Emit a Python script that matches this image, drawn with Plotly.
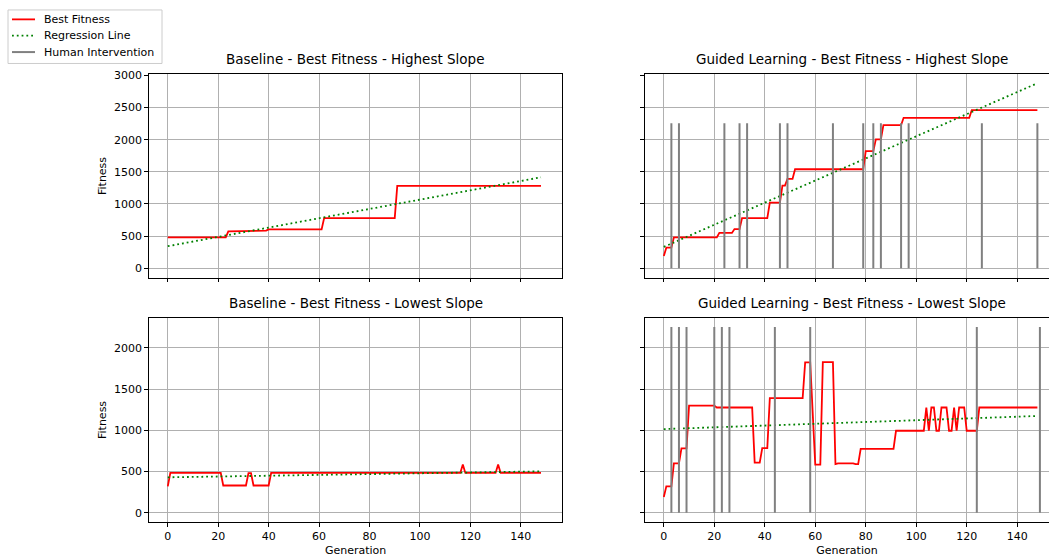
import numpy as np
import plotly.graph_objects as go

generations = list(range(149))

baseline_high = [
    480, 480, 480, 480, 480, 480, 480, 480, 480, 480,
    480, 480, 480, 480, 480, 480, 480, 480, 480, 480,
    480, 480, 480, 480, 575, 575, 575, 575, 575, 575,
    575, 585, 585, 585, 585, 585, 585, 585, 585, 585,
    605, 605, 605, 605, 605, 605, 605, 605, 605, 605,
    605, 605, 605, 605, 605, 605, 605, 605, 605, 605,
    605, 605, 780, 780, 780, 780, 780, 780, 780, 780,
    780, 780, 780, 780, 780, 780, 780, 780, 780, 780,
    780, 780, 780, 780, 780, 780, 780, 780, 780, 780,
    780, 1280, 1280, 1280, 1280, 1280, 1280, 1280, 1280, 1280,
    1280, 1280, 1280, 1280, 1280, 1280, 1280, 1280, 1280, 1280,
    1280, 1280, 1280, 1280, 1280, 1280, 1280, 1280, 1280, 1280,
    1280, 1280, 1280, 1280, 1280, 1280, 1280, 1280, 1280, 1280,
    1280, 1280, 1280, 1280, 1280, 1280, 1280, 1280, 1280, 1280,
    1280, 1280, 1280, 1280, 1280, 1280, 1280, 1280, 1280,
]

guided_high = [
    190, 320, 320, 320, 480, 480, 480, 480, 480, 480,
    480, 480, 480, 480, 480, 480, 480, 480, 480, 480,
    480, 480, 550, 550, 550, 550, 550, 550, 610, 610,
    610, 780, 780, 780, 780, 780, 780, 780, 780, 780,
    780, 780, 1020, 1020, 1020, 1020, 1020, 1285, 1285, 1390,
    1390, 1390, 1540, 1540, 1540, 1540, 1540, 1540, 1540, 1540,
    1540, 1540, 1540, 1540, 1540, 1540, 1540, 1540, 1540, 1540,
    1540, 1540, 1540, 1540, 1540, 1540, 1540, 1540, 1540, 1540,
    1820, 1820, 1820, 1820, 2005, 2005, 2005, 2225, 2225, 2225,
    2225, 2225, 2225, 2225, 2225, 2340, 2340, 2340, 2340, 2340,
    2340, 2340, 2340, 2340, 2340, 2340, 2340, 2340, 2340, 2340,
    2340, 2340, 2340, 2340, 2340, 2340, 2340, 2340, 2340, 2340,
    2340, 2340, 2460, 2460, 2460, 2460, 2460, 2460, 2460, 2460,
    2460, 2460, 2460, 2460, 2460, 2460, 2460, 2460, 2460, 2460,
    2460, 2460, 2460, 2460, 2460, 2460, 2460, 2460, 2460,
]

baseline_low = [
    320, 483, 483, 483, 483, 483, 483, 483, 483, 483,
    483, 483, 483, 483, 483, 483, 483, 483, 483, 483,
    483, 483, 330, 330, 330, 330, 330, 330, 330, 330,
    330, 330, 480, 480, 330, 330, 330, 330, 330, 330,
    330, 483, 483, 483, 483, 483, 483, 483, 483, 483,
    483, 483, 483, 483, 483, 483, 483, 483, 483, 483,
    483, 483, 483, 483, 483, 483, 483, 483, 483, 483,
    483, 483, 483, 483, 483, 483, 483, 483, 483, 483,
    483, 483, 483, 483, 483, 483, 483, 483, 483, 483,
    483, 483, 483, 483, 483, 483, 483, 483, 483, 483,
    483, 483, 483, 483, 483, 483, 483, 483, 483, 483,
    483, 483, 483, 483, 483, 483, 483, 584, 483, 483,
    483, 483, 483, 483, 483, 483, 483, 483, 483, 483,
    483, 584, 483, 483, 483, 483, 483, 483, 483, 483,
    483, 483, 483, 483, 483, 483, 483, 483, 483,
]

guided_low = [
    190, 320, 320, 320, 600, 600, 600, 780, 780, 780,
    1300, 1300, 1300, 1300, 1300, 1300, 1300, 1300, 1300, 1300,
    1300, 1277, 1277, 1277, 1277, 1277, 1277, 1277, 1277, 1277,
    1277, 1277, 1277, 1277, 1277, 1277, 608, 608, 608, 785,
    785, 785, 1390, 1390, 1390, 1390, 1390, 1390, 1390, 1390,
    1390, 1390, 1390, 1390, 1390, 1390, 1825, 1825, 1825, 1205,
    584, 584, 584, 1828, 1828, 1828, 1828, 1828, 590, 600,
    600, 600, 600, 600, 600, 600, 590, 590, 775, 775,
    775, 775, 775, 775, 775, 775, 775, 775, 775, 775,
    775, 775, 995, 995, 995, 995, 995, 995, 995, 995,
    995, 995, 995, 995, 1277, 995, 1277, 1277, 995, 995,
    1277, 1277, 1277, 995, 995, 1277, 995, 1277, 1277, 1277,
    995, 995, 995, 995, 995, 1277, 1277, 1277, 1277, 1277,
    1277, 1277, 1277, 1277, 1277, 1277, 1277, 1277, 1277, 1277,
    1277, 1277, 1277, 1277, 1277, 1277, 1277, 1277, 1277,
]

guided_high_interventions = [3, 6, 24, 30, 33, 46, 49, 67, 79, 83, 86, 94, 97, 126, 148]
guided_low_interventions = [3, 6, 9, 20, 23, 26, 44, 58, 124, 149]
intervention_top = 2255

panel_titles = [
    "Baseline - Best Fitness - Highest Slope",
    "Guided Learning - Best Fitness - Highest Slope",
    "Baseline - Best Fitness - Lowest Slope",
    "Guided Learning - Best Fitness - Lowest Slope",
]
legend_labels = ["Best Fitness", "Regression Line", "Human Intervention"]
x_ticks = [0, 20, 40, 60, 80, 100, 120, 140]
top_y_ticks = [0, 500, 1000, 1500, 2000, 2500, 3000]
bottom_y_ticks = [0, 500, 1000, 1500, 2000]

W, H = 1049, 557
FONT = "DejaVu Sans"
FS = 11
TITLE_FS = 13.5
RED, GREEN, GRAY = "#ff0000", "#008000", "#808080"
DOT = "1.8px,3px"

# pixel boxes of the four axes (left, right, top, bottom)
boxes = [
    (149, 562.3, 70, 275),
    (645, 1049, 70, 275),
    (149, 562.3, 315.7, 521.7),
    (645, 1049, 315.7, 521.7),
]
x_ranges = [[-7.45, 156.45], [-7.45, 152.6], [-7.45, 156.45], [-7.45, 152.6]]
y_ranges = [[-144, 3015], [-144, 3015], [-113, 2365], [-113, 2365]]

series = [baseline_high, guided_high, baseline_low, guided_low]
interventions = [None, guided_high_interventions, None, guided_low_interventions]

fig = go.Figure()

for i in range(4):
    xa = "x" if i == 0 else f"x{i+1}"
    ya = "y" if i == 0 else f"y{i+1}"
    vals = np.array(series[i], dtype=float)
    gens = np.array(generations, dtype=float)
    slope, intercept = np.polyfit(gens, vals, 1)
    reg = slope * gens + intercept

    fig.add_trace(go.Scatter(
        x=generations, y=series[i], mode="lines", name=legend_labels[0],
        line=dict(color=RED, width=1.8), xaxis=xa, yaxis=ya, showlegend=False))
    fig.add_trace(go.Scatter(
        x=generations, y=reg.tolist(), mode="lines", name=legend_labels[1],
        line=dict(color=GREEN, width=1.8, dash=DOT), xaxis=xa, yaxis=ya,
        showlegend=False))
    if interventions[i] is not None:
        vx, vy = [], []
        for g in interventions[i]:
            vx += [g, g, None]
            vy += [0, intervention_top, None]
        fig.add_trace(go.Scatter(
            x=vx, y=vy, mode="lines", name=legend_labels[2],
            line=dict(color=GRAY, width=2), xaxis=xa, yaxis=ya,
            showlegend=False))

axis_common = dict(
    showgrid=True, gridcolor="#b0b0b0", gridwidth=0.8, zeroline=False,
    showline=True, linecolor="#000000", linewidth=0.8,
    ticks="outside", ticklen=4, tickwidth=0.8, tickcolor="#000000",
    tickfont=dict(family=FONT, size=FS, color="#000000"),
)

layout = {}
for i, (l, r, t, b) in enumerate(boxes):
    xk = "xaxis" if i == 0 else f"xaxis{i+1}"
    yk = "yaxis" if i == 0 else f"yaxis{i+1}"
    ya = "y" if i == 0 else f"y{i+1}"
    xa = "x" if i == 0 else f"x{i+1}"
    left_col = i in (0, 2)
    bottom_row = i in (2, 3)
    xd = dict(axis_common)
    xd.update(domain=[l / W, min(r / W, 1.0)], range=x_ranges[i], anchor=ya,
              tickvals=x_ticks, showticklabels=bottom_row, mirror=True)
    if bottom_row:
        xd["title"] = dict(text="Generation", standoff=6,
                           font=dict(family=FONT, size=FS, color="#000000"))
    yd = dict(axis_common)
    yd.update(domain=[1 - b / H, 1 - t / H], range=y_ranges[i], anchor=xa,
              tickvals=top_y_ticks if i < 2 else bottom_y_ticks,
              showticklabels=left_col, mirror=left_col)
    if left_col:
        yd["title"] = dict(text="Fitness", standoff=5,
                           font=dict(family=FONT, size=FS, color="#000000"))
    layout[xk] = xd
    layout[yk] = yd

annotations = []
for i, (l, r, t, b) in enumerate(boxes):
    full_r = l + 413.5
    annotations.append(dict(
        text=panel_titles[i], xref="paper", yref="paper",
        x=((l + full_r) / 2) / W, y=1 - t / H, xanchor="center", yanchor="bottom",
        yshift=5, showarrow=False,
        font=dict(family=FONT, size=TITLE_FS, color="#000000")))

# legend box drawn in figure pixels (matplotlib-style figure legend)
shapes = [dict(type="rect", xref="paper", yref="paper",
               x0=8 / W, x1=162 / W, y0=1 - 59 / H, y1=1 - 5 / H,
               line=dict(color="#cccccc", width=1), fillcolor="rgba(255,255,255,0.8)",
               layer="above")]
legend_styles = [dict(color=RED, width=1.8), dict(color=GREEN, width=1.8, dash=DOT),
                 dict(color=GRAY, width=2)]
legend_rows = [14.5, 31, 47.5]
for lbl, sty, py in zip(legend_labels, legend_styles, legend_rows):
    shapes.append(dict(type="line", xref="paper", yref="paper",
                       x0=12 / W, x1=35 / W, y0=1 - py / H, y1=1 - py / H,
                       line=sty, layer="above"))
    annotations.append(dict(text=lbl, xref="paper", yref="paper",
                            x=42 / W, y=1 - py / H, xanchor="left", yanchor="middle",
                            showarrow=False,
                            font=dict(family=FONT, size=FS, color="#000000")))

fig.update_layout(
    **layout,
    annotations=annotations,
    shapes=shapes,
    width=W, height=H,
    margin=dict(l=0, r=0, t=0, b=0),
    paper_bgcolor="white", plot_bgcolor="white",
    font=dict(family=FONT, size=FS, color="#000000"),
    showlegend=False,
)

post = ("document.body.style.margin='0';document.body.style.overflow='hidden';"
        "var gd=document.getElementById('{plot_id}');"
        "gd.style.position='absolute';gd.style.left='0px';gd.style.top='0px';")
fig.write_html("out.html", post_script=post, config={"displayModeBar": False})
